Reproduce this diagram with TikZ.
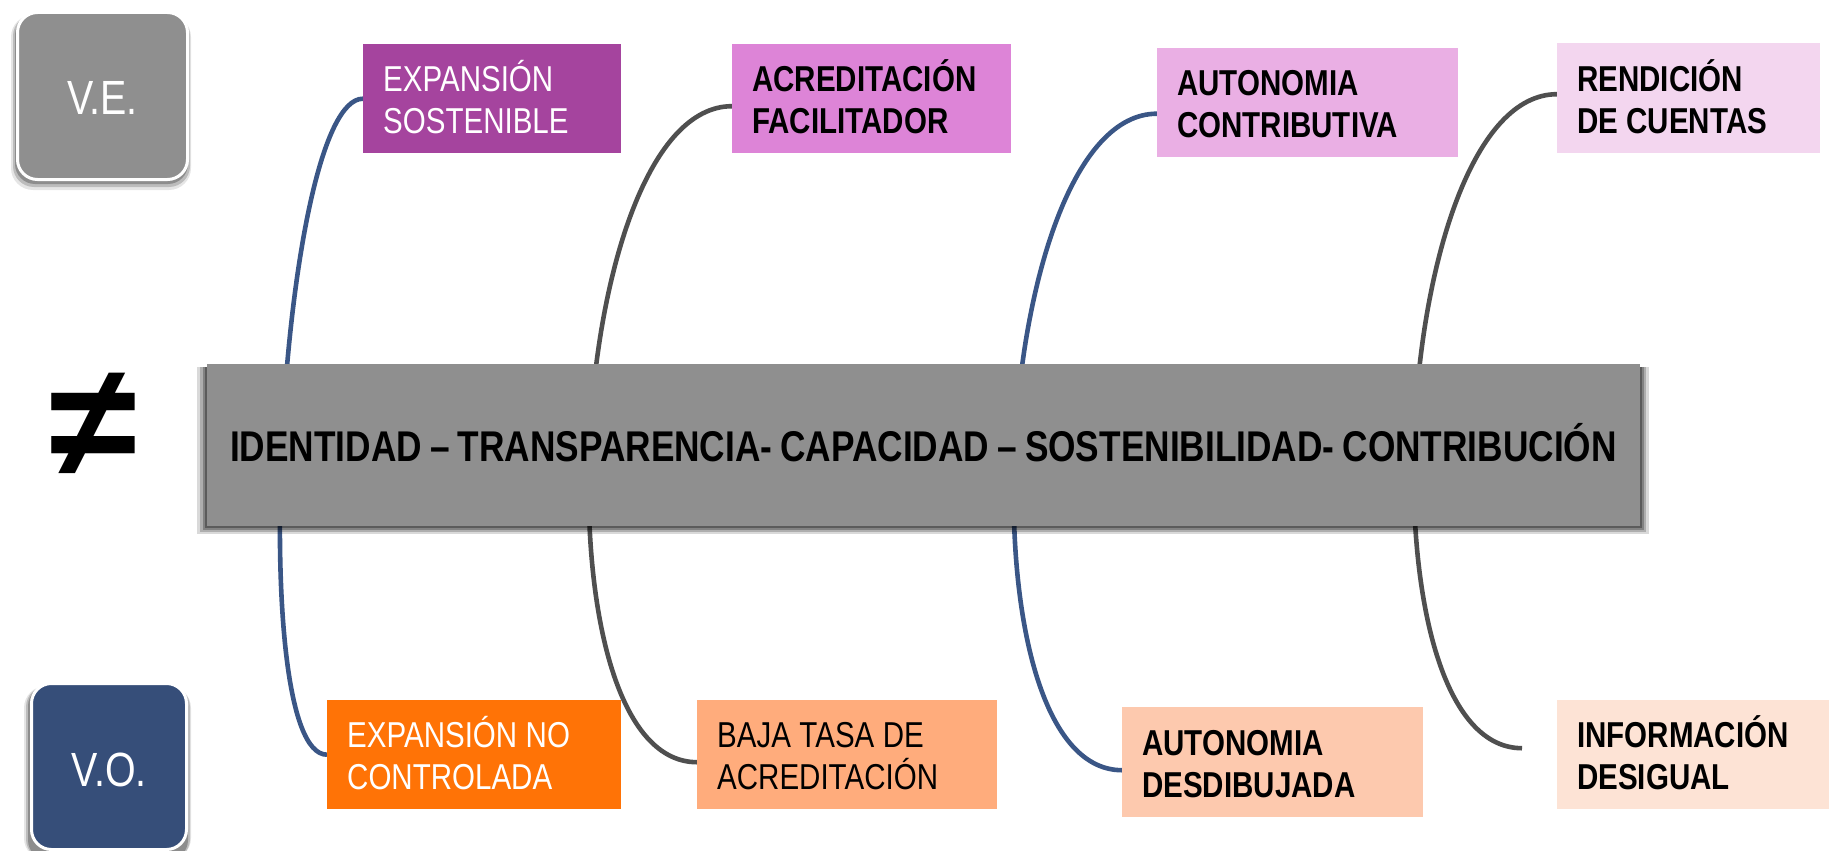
\documentclass[tikz,border=0pt]{standalone}
\usepackage{fontspec}
\setmainfont{Liberation Sans}
\newfontfamily\nar[FakeStretch=0.82,WordSpace=0.82]{Liberation Sans}
\usetikzlibrary{calc}
\definecolor{cgray}{HTML}{8F8F8F}
\definecolor{cvo}{HTML}{364E79}
\definecolor{cES}{HTML}{A5449E}
\definecolor{cAF}{HTML}{DD84D7}
\definecolor{cAC}{HTML}{EAAFE4}
\definecolor{cRC}{HTML}{F3D6EF}
\definecolor{cENC}{HTML}{FF7306}
\definecolor{cBT}{HTML}{FFAC7C}
\definecolor{cAD}{HTML}{FDC9AE}
\definecolor{cID}{HTML}{FDE3D5}
\definecolor{cblue}{HTML}{3A5686}
\definecolor{ccurve}{HTML}{4F4F4F}
\pgfdeclarelayer{bg}
\pgfsetlayers{bg,main}
\newcommand\twol[2]{\spaceskip=0.235em\relax\rule{0pt}{36pt}#1\\#2\rule[-8pt]{0pt}{8pt}}
\begin{document}
\begin{tikzpicture}[x=1pt,y=-1pt,
  tag/.style={rectangle, anchor=north west, inner xsep=20pt, inner ysep=0pt, align=left,
    font=\nar\fontsize{36}{42}\selectfont},
  boldtag/.style={tag, font=\nar\bfseries\fontsize{36}{42}\selectfont},
  roundbox/.style={rectangle, rounded corners=20pt, draw=white, line width=3pt, text=white,
    inner sep=0pt, minimum width=170pt, font=\nar\fontsize{48}{48}\selectfont, text depth=0pt},
  bluec/.style={draw=cblue, line width=4.6pt},
  grayc/.style={draw=ccurve, line width=4.6pt},
  shade/.style={fill=black, opacity=#1}]
\useasboundingbox (0,0) rectangle (1829,851);

% shadows of the rounded boxes
\fill[shade=0.10, rounded corners=22pt] (11,15) rectangle (191,190);
\fill[shade=0.18, rounded corners=21pt] (13,15) rectangle (190,187);
\fill[shade=0.25, rounded corners=20pt] (15,15) rectangle (188,184);
\fill[shade=0.10, rounded corners=22pt] (24,686) rectangle (191,860);
\fill[shade=0.18, rounded corners=21pt] (26,686) rectangle (190,860);
\fill[shade=0.25, rounded corners=20pt] (28,686) rectangle (188,860);

\node[roundbox, fill=cgray, minimum height=167pt, text height=37.4pt] (ve) at (102.5,96) {V.E.};
\node[roundbox, fill=cvo, minimum width=155pt, minimum height=166pt, text height=40.4pt] (vo) at (109,766.5) {V.O.};

\node[font=\bfseries\fontsize{160}{160}\selectfont] (neq) at (93,425) {≠};

% top tags
\node[tag, fill=cES, text=white, text width=218pt, minimum height=109pt] (es) at (363,44) {\twol{EXPANSIÓN}{SOSTENIBLE}};
\node[boldtag, fill=cAF, text width=239pt, minimum height=109pt] (af) at (732,44) {\twol{ACREDITACIÓN}{FACILITADOR}};
\node[boldtag, fill=cAC, text width=261pt, minimum height=109pt] (ac) at (1157,48) {\twol{AUTONOMIA}{CONTRIBUTIVA}};
\node[boldtag, fill=cRC, text width=223pt, minimum height=110pt] (rc) at (1557,43) {\twol{RENDICIÓN}{DE CUENTAS}};
% bottom tags
\node[tag, fill=cENC, text=white, text width=254pt, minimum height=109pt] (enc) at (327,700) {\twol{EXPANSIÓN NO}{CONTROLADA}};
\node[tag, fill=cBT, text width=260pt, minimum height=109pt] (bt) at (697,700) {\twol{BAJA TASA DE}{ACREDITACIÓN}};
\node[boldtag, fill=cAD, text width=261pt, minimum height=110pt] (ad) at (1122,707) {\twol{AUTONOMIA}{DESDIBUJADA}};
\node[boldtag, fill=cID, text width=232pt, minimum height=109pt] (id) at (1557,700) {\twol{INFORMACIÓN}{DESIGUAL}};

% connectors behind everything
\coordinate (idend) at ($(id.west)+(-35,-6.5)$);
\begin{pgfonlayer}{bg}
\draw[bluec] (es.west) .. controls +(-83,0) and +(-83,0) .. (enc.west);
\draw[grayc] ($(af.west)+(0,7.5)$) .. controls +(-166,0) and +(-166,0) .. ($(bt.west)+(0,7.5)$);
\draw[bluec] ($(ac.west)+(0,11)$) .. controls +(-166,0) and +(-166,0) .. ($(ad.west)+(0,8)$);
\draw[grayc] ($(rc.west)+(0,-4)$) .. controls +(-166,0) and +(-166,0) .. (idend);
\end{pgfonlayer}

% main box with shadow
\fill[shade=0.15] (197,367) rectangle (1649,534);
\fill[shade=0.20] (200,367) rectangle (1646,532);
\fill[shade=0.25] (203,367) rectangle (1644,530);
\fill[shade=0.30] (205,367) rectangle (1642,528);
\node[fill=cgray, minimum width=1433pt, minimum height=162pt, inner sep=0pt,
  text height=33pt, text depth=0pt, font=\nar\bfseries\fontsize{43}{50}\selectfont] (main) at (923.5,445)
  {IDENTIDAD – TRANSPARENCIA- CAPACIDAD – SOSTENIBILIDAD- CONTRIBUCIÓN};
\end{tikzpicture}
\end{document}
